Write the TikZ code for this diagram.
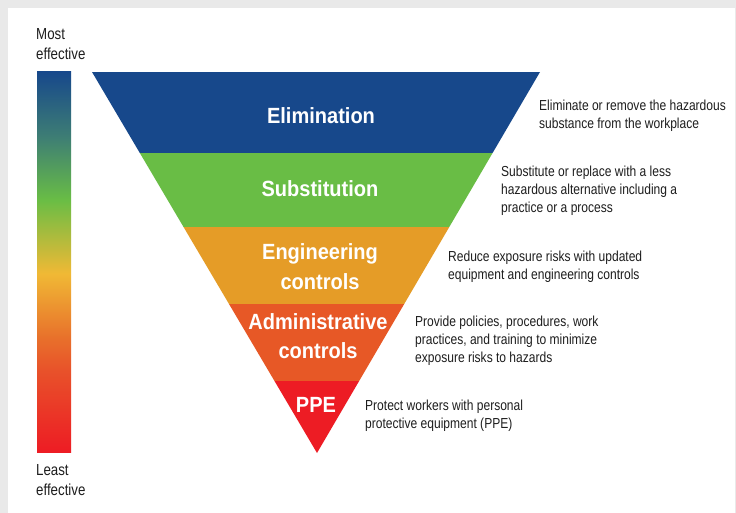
\documentclass[tikz,border=0pt]{standalone}
\usepackage{fontspec}
\setmainfont[FakeStretch=0.83]{Liberation Sans}
\newfontfamily\labfont[FakeStretch=0.91]{Liberation Sans}

\definecolor{pagegray}{HTML}{E9E9E9}
\definecolor{elimblue}{HTML}{17488B}
\definecolor{subgreen}{HTML}{69BD45}
\definecolor{engorange}{HTML}{E59C27}
\definecolor{admorange}{HTML}{E75826}
\definecolor{ppered}{HTML}{ED1C24}
\definecolor{desctext}{HTML}{1E1E1E}
\definecolor{scaleredorange}{HTML}{E8522A}
\definecolor{scaleorange}{HTML}{E8712B}
\definecolor{scaleyellow}{HTML}{F0B935}
\definecolor{scaleteal}{HTML}{3E7E74}

% effectiveness scale: red (bottom) through orange, yellow, green, teal to blue (top)
\pgfdeclareverticalshading{effscale}{100bp}{%
  color(0bp)=(ppered); color(25bp)=(ppered);
  color(35.8bp)=(scaleredorange);
  color(40.1bp)=(scaleorange);
  color(48.5bp)=(scaleyellow);
  color(58.2bp)=(subgreen);
  color(66.4bp)=(scaleteal);
  color(75bp)=(elimblue); color(100bp)=(elimblue)}

\tikzset{
  level/.style={font=\labfont\bfseries\fontsize{22}{29.5}\selectfont, text=white,
    align=center, inner sep=0pt},
  desc/.style={font=\fontsize{14.5}{18}\selectfont, text=desctext, align=left,
    anchor=west, inner sep=0pt},
  scalelabel/.style={font=\fontsize{16}{20}\selectfont, text=desctext, align=left,
    anchor=north west, inner sep=0pt},
}

\begin{document}
\begin{tikzpicture}[x=1pt,y=-1pt]
  % page and panel
  \fill[pagegray] (0,0) rectangle (736,513);
  \fill[white] (8,8) rectangle (735,513);
  \useasboundingbox (0,0) rectangle (736,513);

  % corners of the inverted pyramid
  \coordinate (tl) at (92,72);
  \coordinate (tr) at (540,72);
  \coordinate (apex) at (317,453);

  % pyramid bands
  \begin{scope}
    \clip (tl) -- (tr) -- (apex) -- cycle;
    \fill[elimblue]  (80,72)  rectangle (560,153);
    \fill[subgreen]  (80,153) rectangle (560,227);
    \fill[engorange] (80,227) rectangle (560,304);
    \fill[admorange] (80,304) rectangle (560,381);
    \fill[ppered]    (80,381) rectangle (560,460);
  \end{scope}

  % band titles
  \node[level] (elim) at (321,116) {Elimination};
  \node[level] (subst) at (320,189) {Substitution};
  \node[level] (eng) at (320,266.5) {Engineering\\controls};
  \node[level] (adm) at (318,336) {Administrative\\controls};
  \node[level] (ppe) at (316,405) {PPE};

  % band descriptions
  \node[desc] (elimd) at (539,116) {Eliminate or remove the hazardous\\substance from the workplace};
  \node[desc] (substd) at (501,191) {Substitute or replace with a less\\hazardous alternative including a\\practice or a process};
  \node[desc] (engd) at (448,267) {Reduce exposure risks with updated\\equipment and engineering controls};
  \node[desc] (admd) at (415,341) {Provide policies, procedures, work\\practices, and training to minimize\\exposure risks to hazards};
  \node[desc] (pped) at (365,416) {Protect workers with personal\\protective equipment (PPE)};

  % effectiveness scale bar
  \shade[shading=effscale] (37,72) rectangle (71,452);
  \node[scalelabel] (most) at (36,28) {Most\\effective};
  \node[scalelabel] (least) at (36,464) {Least\\effective};
\end{tikzpicture}
\end{document}
